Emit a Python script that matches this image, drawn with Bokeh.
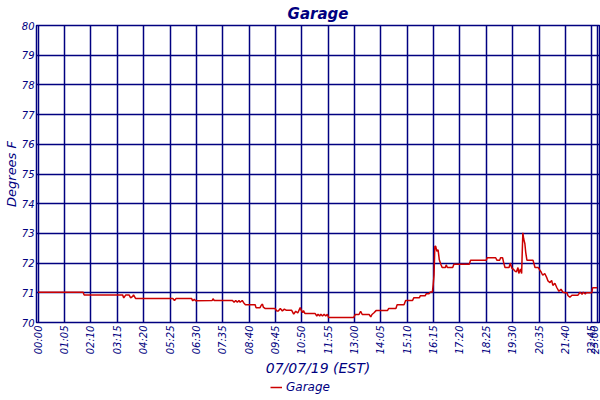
from bokeh.plotting import figure
from bokeh.layouts import column
from bokeh.models import FixedTicker, Legend, LegendItem, Range1d
from bokeh.embed import file_html
from bokeh.resources import INLINE

# time of reading, minutes after midnight
minutes = [0, 111, 113, 208, 211, 216, 224, 228, 233, 235, 240, 332, 336, 340, 378, 381, 385, 388,
           429, 431, 434, 479, 483, 487, 491, 495, 498, 503, 507, 511, 535, 537, 547, 550, 553, 555,
           560, 584, 588, 592, 597, 602, 607, 612, 625, 630, 635, 640, 646, 649, 652, 654, 658, 683,
           687, 690, 694, 697, 701, 705, 709, 713, 716, 778, 782, 791, 795, 799, 816, 820, 823, 828,
           833, 861, 864, 882, 885, 902, 906, 923, 926, 940, 942, 954, 957, 964, 967, 972, 974, 976,
           978, 980, 983, 986, 989, 993, 996, 1004, 1006, 1009, 1022, 1025, 1063, 1066, 1105, 1107,
           1128, 1131, 1138, 1140, 1145, 1148, 1151, 1161, 1164, 1168, 1171, 1175, 1179, 1183, 1185,
           1189, 1192, 1193, 1195, 1197, 1200, 1202, 1205, 1220, 1225, 1233, 1237, 1240, 1244, 1249,
           1254, 1257, 1262, 1266, 1269, 1274, 1279, 1284, 1289, 1294, 1299, 1304, 1306, 1311, 1316,
           1331, 1336, 1341, 1344, 1349, 1351, 1365, 1367, 1378]
garage = [71.02, 71.02, 70.93, 70.93, 70.83, 70.93, 70.93, 70.83, 70.88, 70.93, 70.81, 70.81, 70.74,
          70.81, 70.81, 70.73, 70.78, 70.73, 70.74, 70.80, 70.74, 70.74, 70.68, 70.74, 70.68, 70.74,
          70.68, 70.74, 70.66, 70.60, 70.60, 70.50, 70.50, 70.58, 70.62, 70.52, 70.47, 70.47, 70.39,
          70.39, 70.47, 70.39, 70.45, 70.41, 70.41, 70.28, 70.38, 70.32, 70.50, 70.40, 70.33, 70.40,
          70.30, 70.30, 70.22, 70.28, 70.22, 70.28, 70.22, 70.28, 70.22, 70.28, 70.17, 70.17, 70.27,
          70.27, 70.38, 70.27, 70.27, 70.19, 70.27, 70.33, 70.40, 70.40, 70.47, 70.47, 70.60, 70.60,
          70.74, 70.74, 70.83, 70.83, 70.90, 70.90, 70.97, 70.97, 71.03, 71.03, 71.28, 71.60, 72.57,
          72.57, 72.40, 72.45, 72.11, 71.95, 71.85, 71.85, 71.94, 71.85, 71.85, 71.96, 71.96, 72.10,
          72.10, 72.18, 72.18, 72.10, 72.10, 72.18, 72.18, 72.00, 71.85, 71.85, 72.00, 71.83, 71.80,
          71.74, 71.70, 71.85, 71.65, 71.80, 71.65, 72.14, 73.02, 72.82, 72.65, 72.37, 72.10, 72.10,
          71.85, 71.85, 71.76, 71.70, 71.59, 71.65, 71.51, 71.40, 71.34, 71.42, 71.25, 71.32, 71.17,
          71.05, 71.12, 71.02, 71.00, 71.00, 70.91, 70.85, 70.92, 70.92, 71.02, 70.95, 71.02, 70.96,
          71.00, 71.00, 71.17, 71.17]

tick_minutes = [0, 65, 130, 195, 260, 325, 390, 455, 520, 585, 650, 715, 780, 845, 910, 975,
                1040, 1105, 1170, 1235, 1300, 1365, 1380]
tick_labels = ["00:00", "01:05", "02:10", "03:15", "04:20", "05:25", "06:30", "07:35", "08:40",
               "09:45", "10:50", "11:55", "13:00", "14:05", "15:10", "16:15", "17:20", "18:25",
               "19:30", "20:35", "21:40", "22:45", "23:00"]
y_ticks = [70, 71, 72, 73, 74, 75, 76, 77, 78, 79, 80]

NAVY = "#000080"
RED = "#CC0000"
FONT = "DejaVu Sans"

p = figure(width=600, height=379, output_backend="svg", toolbar_location=None,
           x_range=Range1d(-4.2, 1384), y_range=Range1d(70, 80),
           min_border_left=33, min_border_right=1, min_border_top=0, min_border_bottom=56,
           title="Garage")
p.title.align = "center"
p.title.text_color = NAVY
p.title.text_font = FONT
p.title.text_font_style = "bold italic"
p.title.text_font_size = "15px"
p.title.standoff = 5

r = p.line(minutes, garage, line_color=RED, line_width=1.5)

p.outline_line_color = NAVY
p.outline_line_width = 1.5
p.outline_line_alpha = 1.0

p.xaxis.ticker = FixedTicker(ticks=tick_minutes)
p.xaxis.major_label_overrides = {t: l for t, l in zip(tick_minutes, tick_labels)}
p.xaxis.major_label_orientation = 1.5708
p.yaxis.ticker = FixedTicker(ticks=y_ticks)

for ax in (p.xaxis[0], p.yaxis[0]):
    ax.axis_line_color = None
    ax.major_tick_line_color = None
    ax.minor_tick_line_color = None
    ax.major_tick_out = 0
    ax.major_tick_in = 0
    ax.major_label_text_color = NAVY
    ax.major_label_text_font = FONT
    ax.major_label_text_font_style = "italic"
    ax.major_label_text_font_size = "10px"
    ax.axis_label_text_color = NAVY
    ax.axis_label_text_font = FONT
    ax.axis_label_text_font_style = "italic"
    ax.axis_label_text_font_size = "14px"

p.xaxis.major_label_standoff = 3
p.xaxis.axis_label_standoff = 3
p.yaxis.major_label_standoff = 2
p.yaxis.axis_label_standoff = 0
p.yaxis.axis_label_text_font_size = "13px"

p.xaxis.axis_label = "07/07/19 (EST)"
p.yaxis.axis_label = "Degrees F"

for g in (p.xgrid[0], p.ygrid[0]):
    g.grid_line_color = NAVY
    g.grid_line_width = 1.5
    g.grid_line_alpha = 1.0

# small strip below the chart that carries the legend (its line lies outside the strip's ranges)
q = figure(width=600, height=15, output_backend="svg", toolbar_location=None,
           x_axis_location=None, y_axis_location=None,
           x_range=Range1d(0, 1), y_range=Range1d(0, 1),
           min_border_left=0, min_border_right=0, min_border_top=0, min_border_bottom=0)
q.grid.visible = False
q.outline_line_color = None
r2 = q.line(minutes, garage, line_color=RED, line_width=1.5)
legend = Legend(items=[LegendItem(label="Garage", renderers=[r2])], orientation="horizontal",
                location=(234, 0), border_line_color=None, background_fill_alpha=0,
                label_text_color=NAVY, label_text_font=FONT, label_text_font_style="italic",
                label_text_font_size="12px", glyph_width=12, glyph_height=12,
                padding=0, margin=0, label_standoff=4, label_height=12)
q.add_layout(legend, "center")

layout = column(p, q, spacing=0)
open("out.html", "w").write(file_html(layout, INLINE))
